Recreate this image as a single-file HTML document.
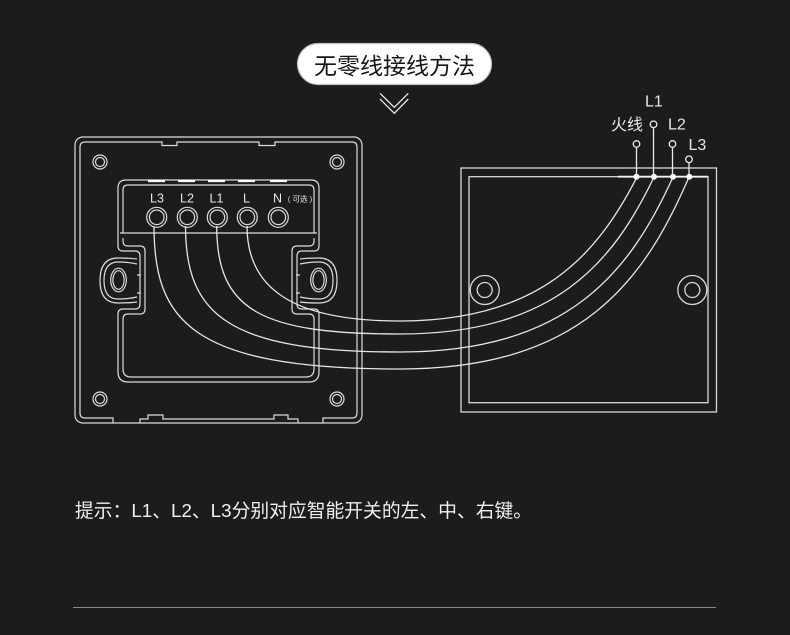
<!DOCTYPE html>
<html><head><meta charset="utf-8"><style>
html,body{margin:0;padding:0;background:#1c1c1c;}
svg{display:block;}
</style></head><body>
<svg width="790" height="635" viewBox="0 0 790 635" xmlns="http://www.w3.org/2000/svg">
<rect width="790" height="635" fill="#1c1c1c"/>

<!-- Title pill -->
<rect x="297.5" y="43.5" width="194" height="41" rx="20.5" fill="#ffffff" stroke="#bdbdbd" stroke-width="1.2"/>
<text x="394.5" y="74" text-anchor="middle" font-family="'Liberation Sans','Noto Sans CJK SC',sans-serif" font-size="23" fill="#151515">无零线接线方法</text>

<!-- chevrons -->
<g fill="none" stroke="#e8e8e8" stroke-width="1.3">
<polyline points="380,93.3 394.3,107.3 408.3,93.3"/>
<polyline points="380,99 394.3,113.3 408.3,99"/>
</g>

<!-- Left switch plate -->
<g fill="none" stroke="#dcdcdc" stroke-width="1.2">
  <rect x="75" y="137" width="287" height="286" rx="8"/>
  <path d="M113,423 V418 H85 Q80,418 80,413 V147 Q80,142 85,142 H162 V145.5 H177 V142 H259 V145.5 H275 V142 H352 Q357,142 357,147 V413 Q357,418 352,418 H323 V423"/>
  <path d="M140,423 V419 H148 V415 H163 V419 H274 V415 H288 V419 H298 V423"/>
  <!-- plate screws -->
  <circle cx="100" cy="162" r="7"/><circle cx="100" cy="162" r="4.5"/>
  <circle cx="337" cy="162" r="7"/><circle cx="337" cy="162" r="4.5"/>
  <circle cx="100" cy="399" r="7"/><circle cx="100" cy="399" r="4.5"/>
  <circle cx="337" cy="399" r="7"/><circle cx="337" cy="399" r="4.5"/>
  <!-- body outer -->
  <path d="M118,188 Q118,180 126,180 H311 Q319,180 319,188 V246 Q319,251 314,251 H302 Q297,251 297,256 V304 Q297,309 302,309 H314 Q319,309 319,314 V372 Q319,382 309,382 H128 Q118,382 118,372 V314 Q118,309 123,309 H135 Q140,309 140,304 V256 Q140,251 135,251 H123 Q118,251 118,246 Z"/>
  <!-- body inner -->
  <path d="M123,233 V190 Q123,185 128,185 H309 Q314,185 314,190 V233"/>
  <path d="M120,233 H317"/>
  <path d="M123,238 V241 Q123,246 128,246 H140 Q145,246 145,251 V309 Q145,314 140,314 H128 Q123,314 123,319 V369 Q123,377 131,377 H306 Q314,377 314,369 V319 Q314,314 309,314 H297 Q292,314 292,309 V251 Q292,246 297,246 H309 Q314,246 314,241 V238"/>
  <!-- ears -->
  <path d="M137,259 Q130,258 118,258 Q100,258 100,280.5 Q100,303 118,303 Q130,303 137,302"/>
  <path d="M137,264 Q128,262 118,262 Q104,262 104,280.5 Q104,299 118,299 Q128,299 137,297"/>
  <ellipse cx="118.5" cy="280" rx="7.8" ry="11.8"/>
  <ellipse cx="118.5" cy="280" rx="5.6" ry="9.3"/>
  <path d="M137,275 H141 M137,293 H141"/>
  <path d="M300,259 Q307,258 319,258 Q337,258 337,280.5 Q337,303 319,303 Q307,303 300,302"/>
  <path d="M300,264 Q309,262 319,262 Q333,262 333,280.5 Q333,299 319,299 Q309,299 300,297"/>
  <ellipse cx="318.5" cy="280" rx="7.8" ry="11.8"/>
  <ellipse cx="318.5" cy="280" rx="5.6" ry="9.3"/>
  <path d="M296,275 H300 M296,293 H300"/>
  <!-- terminals -->
  <circle cx="156.7" cy="217.3" r="10"/><circle cx="156.7" cy="217.3" r="7.3"/>
  <circle cx="187.3" cy="217.3" r="10"/><circle cx="187.3" cy="217.3" r="7.3"/>
  <circle cx="217.3" cy="217.3" r="10"/><circle cx="217.3" cy="217.3" r="7.3"/>
  <circle cx="247.3" cy="217.3" r="10"/><circle cx="247.3" cy="217.3" r="7.3"/>
  <circle cx="278.3" cy="217.3" r="10"/><circle cx="278.3" cy="217.3" r="7.3"/>
</g>
<!-- bright highlights on top of terminal block -->
<g stroke="#ffffff" stroke-width="2.2">
  <path d="M148,181 H165 M178,181 H195 M208,181 H225 M238,181 H255 M270,181 H287"/>
</g>
<g font-family="'Liberation Sans','Noto Sans CJK SC',sans-serif" font-size="12.5" fill="#e6e6e6" text-anchor="middle">
  <text x="157" y="202.5">L3</text>
  <text x="187" y="202.5">L2</text>
  <text x="216.5" y="202.5">L1</text>
  <text x="246.5" y="202.5">L</text>
  <text x="277.5" y="202.5">N</text>
  <text x="300" y="201.5" font-size="7.5">( 可选 )</text>
</g>

<!-- Right box -->
<g fill="none" stroke="#d8d8d8" stroke-width="1.3">
  <rect x="461" y="168" width="255.5" height="244"/>
  <rect x="469" y="176.7" width="239" height="226"/>
  <circle cx="484.7" cy="290" r="14.5"/><circle cx="484.7" cy="290" r="7.5"/>
  <circle cx="692.3" cy="290" r="14.5"/><circle cx="692.3" cy="290" r="7.5"/>
</g>
<path d="M618,176.7 H708" stroke="#f2f2f2" stroke-width="1.8"/>

<!-- wires -->
<g fill="none" stroke="#e6e6e6" stroke-width="1.3">
  <path d="M154,226 C154,320 190,369 400,369 C580,369 644,282 689,177"/>
  <path d="M185.5,226 C185.5,315 228,352 400,352 C568,352 630,272 673,177"/>
  <path d="M216.7,226 C216.7,310 260,334 400,334 C554,334 613,263 654,177"/>
  <path d="M247,226 C247,290 295,321 400,321 C540,321 597,255 637,177"/>
</g>

<!-- connection points -->
<g stroke="#e8e8e8" stroke-width="1.3" fill="none">
  <path d="M636.5,177 V147.3 M653.5,177 V127.6 M672.5,177 V147.3 M689,177 V162.6"/>
  <circle cx="636.5" cy="144" r="3.3"/>
  <circle cx="653.5" cy="124.3" r="3.3"/>
  <circle cx="672.5" cy="144" r="3.3"/>
  <circle cx="689" cy="159.3" r="3.3"/>
</g>
<g fill="#ffffff">
  <circle cx="636.5" cy="176.7" r="3"/>
  <circle cx="654" cy="176.7" r="3"/>
  <circle cx="673" cy="176.7" r="3"/>
  <circle cx="689.3" cy="176.7" r="3"/>
</g>
<g font-family="'Liberation Sans','Noto Sans CJK SC',sans-serif" fill="#e8e8e8" font-size="16">
  <text x="611" y="130">火线</text>
  <text x="645" y="106.7">L1</text>
  <text x="668" y="129.3">L2</text>
  <text x="688.5" y="150">L3</text>
</g>

<!-- bottom note -->
<text x="75" y="517" font-family="'Liberation Sans','Noto Sans CJK SC',sans-serif" font-size="18.8" fill="#f0f0f0">提示：L1、L2、L3分别对应智能开关的左、中、右键。</text>

<!-- bottom rule -->
<path d="M73,607.5 H716" stroke="#8a8a8a" stroke-width="1"/>
</svg>
</body></html>
